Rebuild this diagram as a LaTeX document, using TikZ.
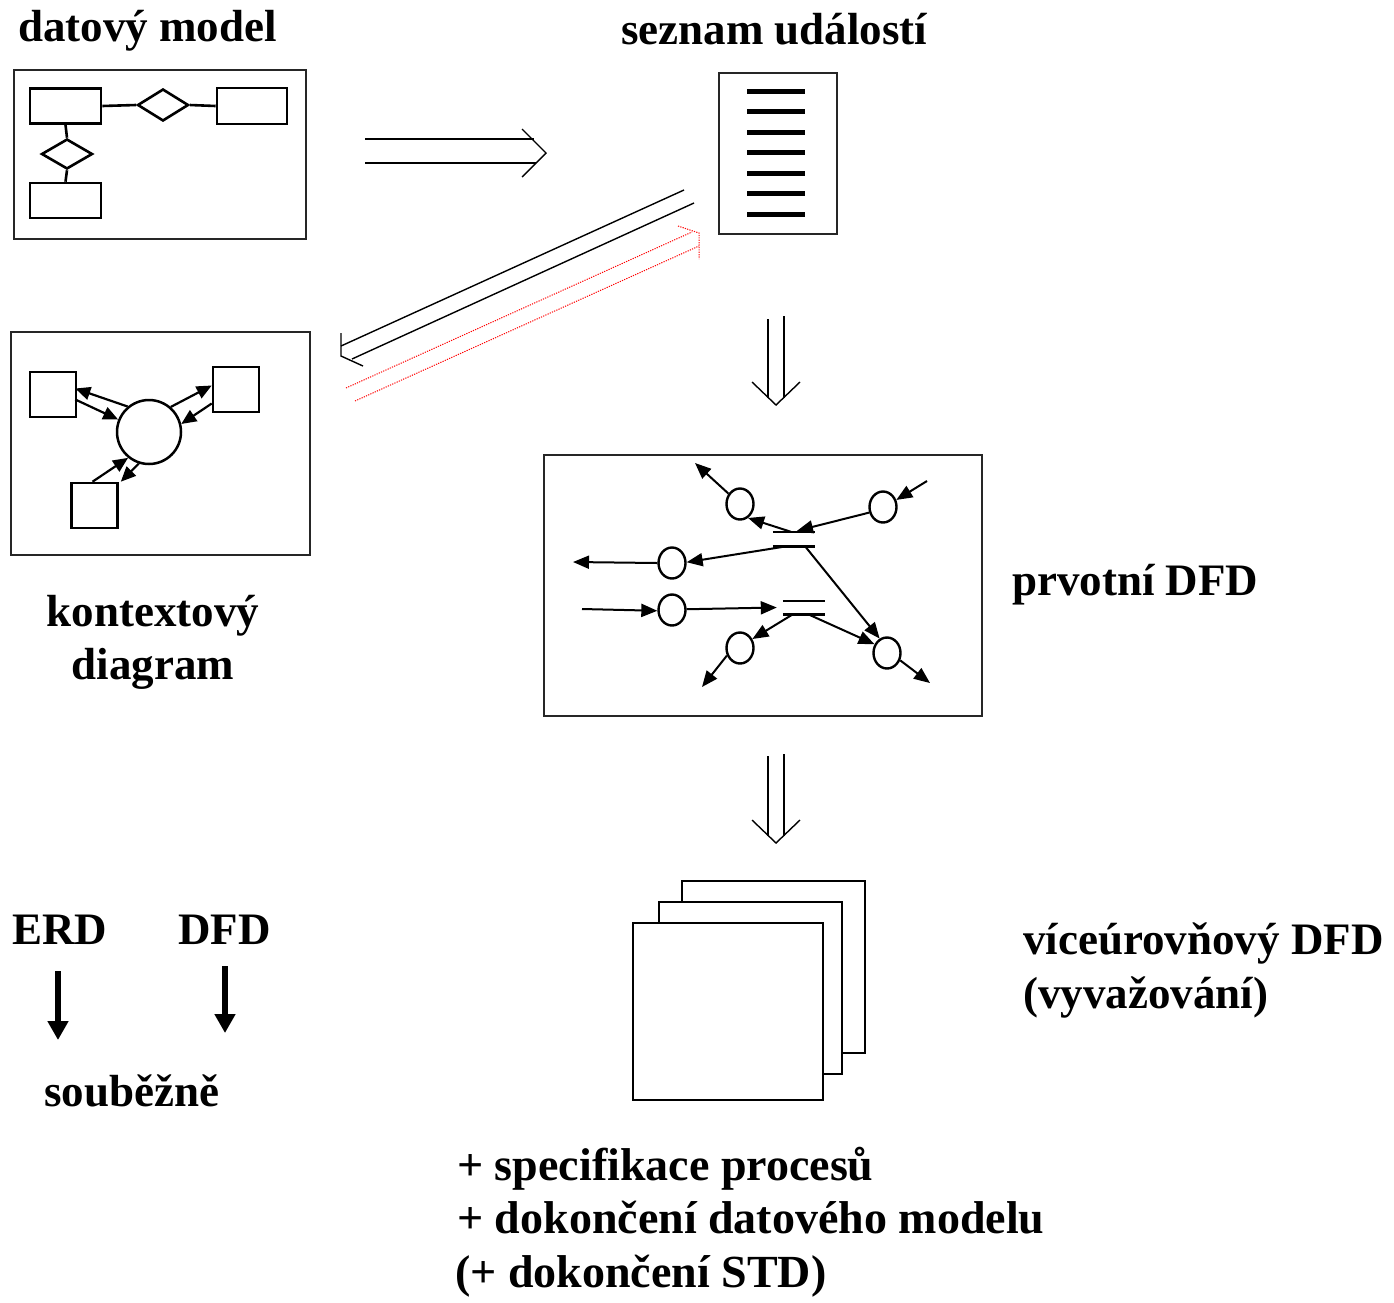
\documentclass[tikz,border=0pt]{standalone}
\usepackage{fontspec}
\setmainfont{Liberation Serif}
\usetikzlibrary{arrows.meta,shapes.geometric,calc}
\begin{document}
\begin{tikzpicture}[x=1pt,y=-1pt,
  lbl/.style={font=\fontsize{45}{54}\selectfont\bfseries, inner sep=0, anchor=base west},
  lblw/.style={font=\fontsize{46}{54}\selectfont\bfseries, inner sep=0, anchor=base west},
  frame/.style={draw=black!85, line width=1.2pt},
  erbox/.style={draw, line width=2.6pt, minimum width=71pt, minimum height=35pt, inner sep=0},
  erdia/.style={diamond, draw, line width=2.6pt, inner sep=0},
  erline/.style={line width=2.6pt},
  ctxbox/.style={draw, line width=2.6pt, minimum width=46pt, minimum height=45pt, inner sep=0},
  ctxarr/.style={line width=2.2pt, -{Triangle[length=15pt,width=13pt]}},
  proc/.style={ellipse, draw, line width=2.4pt, minimum width=27pt, minimum height=31pt, inner sep=0},
  storebox/.style={inner sep=0, minimum width=42pt, minimum height=14pt},
  storeline/.style={line width=2.6pt},
  dfdarr/.style={line width=2pt, -{Triangle[length=16pt,width=13pt]}},
  dbl/.style={line width=1.4pt},
  reddot/.style={red, line width=1pt, dash pattern=on 1.2pt off 1.2pt},
  pagebox/.style={draw, fill=white, line width=2.6pt},
  bigarr/.style={line width=5.5pt, -{Triangle[length=19pt,width=20pt]}}]
\useasboundingbox (0,0) rectangle (1394,1302);

% ---------- texts ----------
\node[lbl] (tDM) at (18,41) {datový model};
\node[lbl] (tSU) at (621,44) {seznam událostí};
\node[lbl, anchor=base] (tK1) at (153,626) {kontextový};
\node[lbl, anchor=base] (tK2) at (153,679) {diagram};
\node[lbl] (tPD) at (1012,595) {prvotní DFD};
\node[lbl] (tV1) at (1023,954) {víceúrovňový DFD};
\node[lbl] (tV2) at (1023,1008) {(vyvažování)};
\node[lblw] (tS1) at (457,1180) {+ specifikace procesů};
\node[lblw] (tS2) at (457,1233) {+ dokončení datového modelu};
\node[lblw] (tS3) at (455,1287) {(+ dokončení STD)};
\node[lbl] (tERD) at (12,944) {ERD};
\node[lbl] (tDFD) at (178,944) {DFD};
\node[lbl] (tSB) at (44,1106) {souběžně};

% ---------- data model (ERD) ----------
\draw[frame] (14,70) rectangle (306,239);
\node[erbox] (R1) at (65.5,106) {};
\node[erbox, minimum width=70pt, minimum height=36pt] (R2) at (252,106) {};
\node[erbox] (R3) at (65.5,200.5) {};
\node[erdia, minimum width=51pt, minimum height=32pt] (D1) at (163,105) {};
\node[erdia, minimum width=51pt, minimum height=30pt] (D2) at (67,154) {};
\draw[erline] (R1.east) -- (D1.west);
\draw[erline] (D1.east) -- (R2.west);
\draw[erline] (R1.south) -- (D2.north);
\draw[erline] (D2.south) -- (R3.north);

% ---------- event list ----------
\node[frame, minimum width=118pt, minimum height=161pt, inner sep=0] (EL) at (778,153.5) {};
\foreach \yy in {91,111,132,152,173,193,214}
  \draw[line width=5pt] (747,\yy) -- (805,\yy);

% ---------- double arrow right ----------
\draw[dbl] (365,139) -- (534,139);
\draw[dbl] (365,163) -- (536,163);
\draw[dbl] (522,129) -- (546,153) -- (522,177);

% ---------- diagonal black double arrow ----------
\draw[dbl] (684,190) -- (341,346);
\draw[dbl] (694,203) -- (352,359);
\draw[dbl] (341,333) -- (341,356) -- (363,366);

% ---------- red dotted double arrow ----------
\draw[reddot] (346,388) -- (692,232);
\draw[reddot] (355,401) -- (699,246);
\draw[reddot] (678,226) -- (699,233) -- (699,259);

% ---------- context diagram ----------
\draw[frame] (11,332) rectangle (310,555);
\node[ctxbox] (Q1) at (53,394.5) {};
\node[ctxbox] (Q2) at (236,389.5) {};
\node[ctxbox] (Q3) at (94.5,505.5) {};
\node[circle, draw, line width=2.5pt, minimum size=64pt, inner sep=0] (K) at (149,432) {};
\draw[ctxarr] (K.130) -- ($(Q1.east)+(-2,-6)$);
\draw[ctxarr] ($(Q1.east)+(-2,5)$) -- (K.158);
\draw[ctxarr] (K.49) -- ($(Q2.west)+(0,-4)$);
\draw[ctxarr] ($(Q2.west)+(0,14)$) -- (K.14);
\draw[ctxarr] ($(Q3.north)+(-2,0)$) -- (K.231);
\draw[ctxarr] (K.252) -- ($(Q3.north east)+(2,0)$);

% ---------- down double arrow 1 ----------
\draw[dbl] (768,319) -- (768,398);
\draw[dbl] (784,316) -- (784,398);
\draw[dbl] (752,382) -- (776,405) -- (800,382);

% ---------- first DFD ----------
\draw[frame] (544,455) rectangle (982,716);
\node[proc] (A) at (740,504) {};
\node[proc] (B) at (883,507) {};
\node[proc] (C) at (672,563) {};
\node[proc] (D) at (672,610) {};
\node[proc] (E) at (740,648) {};
\node[proc] (F) at (887,653) {};
\node[storebox] (S1) at (794,539) {};
\node[storebox, minimum height=13pt] (S2) at (804,607.5) {};
\draw[storeline] (S1.north west) -- (S1.north east);
\draw[storeline] (S1.south west) -- (S1.south east);
\draw[storeline] (S2.north west) -- (S2.north east);
\draw[storeline] (S2.south west) -- (S2.south east);
\coordinate (oA) at (695,463);
\coordinate (oB) at (927,481);
\coordinate (oC) at (573,562);
\coordinate (oD) at (582,609);
\coordinate (oE) at (702,687);
\coordinate (oF) at (930,683);
\draw[dfdarr] (A.138) -- (oA);
\draw[dfdarr] ($(S1.north)+(-3,0)$) -- (A.-60);
\draw[dfdarr] (B.202) -- ($(S1.north)+(3,-1)$);
\draw[dfdarr] (oB) -- (B.28);
\draw[dfdarr] ($(S1.south)+(-7,0)$) -- (C.3);
\draw[dfdarr] (C.180) -- (oC);
\draw[dfdarr] ($(S1.south)+(11,0)$) -- (F.117);
\draw[dfdarr] (oD) -- (D.183);
\draw[dfdarr] (D.3) -- ($(S2.west)+(-6,0)$);
\draw[dfdarr] ($(S2.south)+(-11,0)$) -- (E.36);
\draw[dfdarr] ($(S2.south)+(4,0)$) -- (F.145);
\draw[dfdarr] (E.210) -- (oE);
\draw[dfdarr] (F.-29) -- (oF);

% ---------- down double arrow 2 ----------
\draw[dbl] (768,756) -- (768,836);
\draw[dbl] (784,754) -- (784,836);
\draw[dbl] (752,820) -- (776,843) -- (800,820);

% ---------- stacked pages ----------
\draw[pagebox] (682,881) rectangle (865,1053);
\draw[pagebox] (659,902) rectangle (842,1074);
\draw[pagebox] (633,923) rectangle (823,1100);

% ---------- ERD / DFD arrows ----------
\coordinate (aE1) at (58,971);
\coordinate (aE2) at (58,1040);
\coordinate (aD1) at (225,966);
\coordinate (aD2) at (225,1033);
\draw[bigarr] (aE1) -- (aE2);
\draw[bigarr] (aD1) -- (aD2);
\end{tikzpicture}
\end{document}
